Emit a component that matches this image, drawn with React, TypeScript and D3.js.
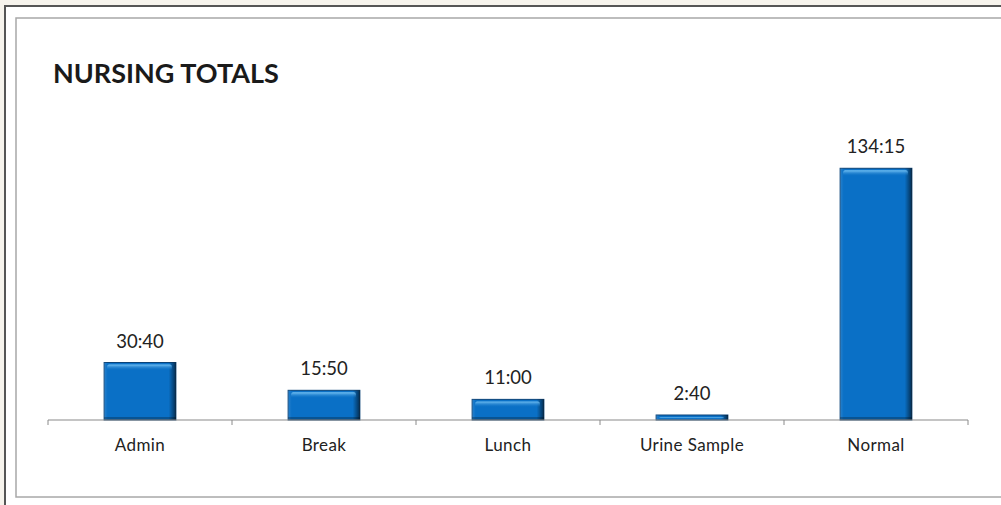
import { useMemo } from "react";
import * as d3 from "d3";

// category names and durations (h:mm), as printed on the chart
const categories = ["Admin", "Break", "Lunch", "Urine Sample", "Normal"];
const durations = ["30:40", "15:50", "11:00", "2:40", "134:15"];

const toHours = (s: string) => {
  const [h, m] = s.split(":").map(Number);
  return h + m / 60;
};

const W = 1001;
const H = 505;
const font = "Lato, 'Open Sans', sans-serif";

export default function App() {
  const margin = { left: 48, right: 33, top: 120, bottom: 85 };
  const axisY = H - margin.bottom;

  const x = useMemo(
    () =>
      d3.scaleBand<string>()
        .domain(categories)
        .range([margin.left, W - margin.right])
        .paddingInner(0.61)
        .paddingOuter(0.305),
    []
  );
  const xCat = useMemo(
    () => d3.scaleBand<string>().domain(categories).range([margin.left, W - margin.right]).padding(0),
    []
  );
  const y = useMemo(() => d3.scaleLinear().domain([0, 160]).range([axisY, margin.top]), []);

  const bars = categories.map((c, i) => ({ c, label: durations[i], v: toHours(durations[i]) }));
  const ticks = [...categories.map((c) => xCat(c)!), W - margin.right];

  return (
    <svg
      width={W}
      height={H}
      style={{ position: "fixed", left: 0, top: 0, display: "block" }}
      fontFamily={font}
    >
      <defs>
        <linearGradient id="side" x1="0" x2="1" y1="0" y2="0">
          <stop offset="0" stopColor="#ffffff" stopOpacity={0.12} />
          <stop offset="0.05" stopColor="#ffffff" stopOpacity={0} />
          <stop offset="0.9" stopColor="#000000" stopOpacity={0} />
          <stop offset="0.96" stopColor="#000000" stopOpacity={0.35} />
          <stop offset="1" stopColor="#000000" stopOpacity={0.6} />
        </linearGradient>
        <linearGradient id="bevel" x1="0" x2="0" y1="0" y2="1">
          <stop offset="0" stopColor="#7cc8f8" stopOpacity={0.95} />
          <stop offset="1" stopColor="#0b6ec2" stopOpacity={0} />
        </linearGradient>
      </defs>

      {/* page background and frames */}
      <rect width={W} height={H} fill="#f6f3ec" />
      <rect x={5} y={6} width={W + 20} height={H + 20} fill="#ffffff" stroke="#555" strokeWidth={2} />
      <rect x={16} y={18} width={W + 20} height={479} fill="#ffffff" stroke="#a8a8a8" strokeWidth={1.5} />

      <text x={53} y={83} fontSize={27} fontWeight={700} fill="#1a1a1a">
        NURSING TOTALS
      </text>

      {/* bars */}
      {bars.map((d) => {
        const bx = x(d.c)!;
        const bw = x.bandwidth();
        const top = y(d.v);
        const h = axisY - top;
        const bevelH = Math.max(0, Math.min(6, h - 3));
        return (
          <g key={d.c}>
            <rect x={bx} y={top} width={bw} height={h} fill="#0a70c6" stroke="#0a4378" strokeWidth={1} />
            <rect x={bx} y={top} width={bw} height={h} fill="url(#side)" />
            {bevelH > 0 && (
              <rect x={bx + 3} y={top + 2} width={bw - 7} height={bevelH} rx={2} fill="url(#bevel)" />
            )}
            {h > 6 && <rect x={bx} y={axisY - 3} width={bw} height={3} fill="#000" opacity={0.25} />}
            <text
              x={bx + bw / 2}
              y={top - 15}
              textAnchor="middle"
              fontSize={18.5}
              fill="#222"
            >
              {d.label}
            </text>
          </g>
        );
      })}

      {/* category axis */}
      <line x1={margin.left} x2={W - margin.right} y1={axisY} y2={axisY} stroke="#8a8a8a" strokeWidth={1.2} />
      {ticks.map((t, i) => (
        <line key={i} x1={t} x2={t} y1={axisY} y2={axisY + 5} stroke="#8a8a8a" strokeWidth={1} />
      ))}
      {categories.map((c) => (
        <text
          key={c}
          x={xCat(c)! + xCat.bandwidth() / 2}
          y={axisY + 31}
          textAnchor="middle"
          fontSize={17}
          letterSpacing={0.4}
          fill="#222"
        >
          {c}
        </text>
      ))}
    </svg>
  );
}
